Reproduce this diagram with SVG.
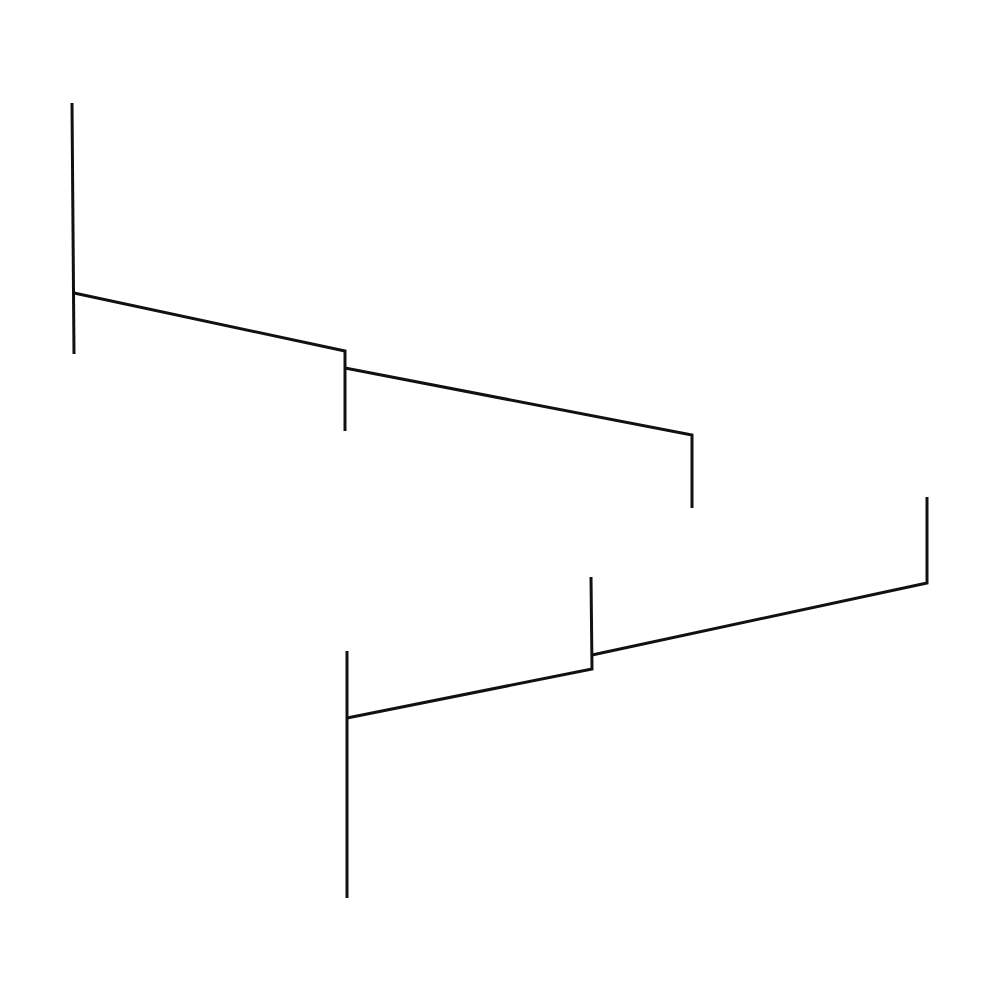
<svg xmlns="http://www.w3.org/2000/svg" width="1000" height="1000" viewBox="0 0 1000 1000">
<style>
.c{fill:none;stroke:#111;stroke-width:3;stroke-linejoin:miter;stroke-linecap:butt}
</style>
<rect width="1000" height="1000" fill="#fff"/>
<g id="connectors">
<path class="c" d="M72,103 L74,354"/>
<path class="c" d="M74,293 L345,351 L345,431"/>
<path class="c" d="M345,368 L692,435 L692,508"/>
<path class="c" d="M347,651 L347,898"/>
<path class="c" d="M347,718 L592,669 L591,577"/>
<path class="c" d="M592,655 L927,583 L927,497"/>
</g>
</svg>
